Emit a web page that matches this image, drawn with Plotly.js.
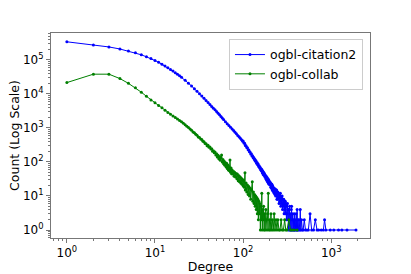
<!DOCTYPE html>
<html>
<head>
<meta charset="utf-8">
<script src="https://cdn.plot.ly/plotly-3.0.1.min.js"></script>
<style>html,body{margin:0;padding:0;background:#fff;}#chart{width:411px;height:274px;}</style>
</head>
<body>
<div id="chart"></div>
<script>
// ogbl-citation2 degree distribution
var citDegree = [1,2,3,4,5,6,7,8,9,10,11,12,13,14,15,16,17,18,19,20,
22,24,26,28,30,32,34,36,38,40,42,44,46,48,50,52,54,56,58,60,
63,66,69,72,75,78,81,84,87,90,93,96,99,
100,102,104,106,108,110,112,114,116,118,120,122,124,126,128,130,132,134,136,138,140,142,144,146,148,150,152,154,156,158,160,
161,163,165,167,169,171,173,175,177,179,181,183,185,187,189,191,193,195,197,199,
202,204,206,208,210,212,214,216,218,220,222,224,226,228,230,232,234,236,238,240,242,244,246,248,250,
253,256,259,262,265,268,271,274,277,280,283,286,289,292,295,298,301,304,307,310,313,316,319,322,325,328,331,334,337,340,343,346,349,352,355,358,361,365,369,373,377,381,385,390,395,400,405,410,415,420,425,432,440,445,452,460,470,480,495,510,530,550,575,600,630,660,690,720,770,815,840,870,975,1070,1210,1320,1510,1910];
var citCount = [340000,275000,240000,209000,182000,162000,141000,123000,110000,95500,85100,74100,66100,58600,52400,47000,42000,37600,33900,30800,
25000,20600,17100,14200,11900,10100,8630,7400,6370,5560,4870,4300,3800,3400,3040,2700,2420,2170,1950,1760,
1520,1330,1180,1047,933,836,752,673,603,547,497,451,409,
410,360,352,305,301,265,262,228,226,198,197,172,173,150,153,133,136,118,121,104,108,92,97,83,87,74,78,66,70,59,63,
55,60,48,54,43,50,40,45,36,41,32,38,29,35,26,32,24,30,22,27,
21,25,18,23,17,22,15,20,14,18,13,17,12,16,11,16,10,14,11,15,8,13,8,13,9,
12,6,11,7,12,5,9,6,10,4,8,5,8,3,7,4,7,3,6,2,5,3,6,2,4,1,4,2,5,1,3,2,1,4,5,1,2,3,1,2,1,3,1,2,1,3,1,4,1,2,1,2,1,4,1,2,1,1,2,1,1,1,3,1,1,2,1,1,1,1,2,1,1,1,1,1,1,1];

// ogbl-collab degree distribution
var colDegree = [1,2,3,4,5,6,7,8,9,10,11,12,13,14,15,16,17,18,19,20,
21,22,23,24,25,26,27,28,29,30,31,32,33,34,35,36,37,38,39,40,
41,42,43,44,45,46,47,48,49,50,51,52,53,54,55,56,57,58,59,60,
61,62,63,64,65,66,67,68,69,70,71,72,73,74,75,76,78,79,80,82,83,85,86,88,89,91,92,94,95,97,98,
100,101,103,105,106,108,110,112,114,116,118,120,122,124,127,129,131,133,135,137,139,141,143,145,147,149,151,153,155,157,159,161,163,165,167,169,171,173,175,178,181,184,187,190,193,196,199,
203,207,211,215,220,225,230,236,242,248,255,262,270,278,287,296,305,315,330,345,360,380,410];
var colCount = [21500,38000,38000,28200,20400,15100,11200,8500,6600,5500,4570,3890,3300,2860,2530,2250,2020,1820,1650,1510,
1370,1250,1120,1030,930,860,760,720,650,610,545,525,470,455,405,395,350,345,300,310,
270,275,240,245,205,215,185,195,160,175,140,158,125,142,112,132,160,100,118,88,
104,80,95,72,92,64,82,58,74,55,115,50,66,45,58,44,52,38,50,36,46,32,44,28,40,26,37,24,34,22,31,
20,29,18,48,15,24,13,21,11,19,10,17,8,15,26,7,13,6,11,5,10,4,9,3,8,2,7,3,6,1,5,2,12,1,4,2,5,1,3,1,4,2,1,3,12,1,2,
1,3,1,2,1,3,1,2,1,2,1,1,2,1,1,2,1,1,2,1,1,1,1];

var xTickVals = [1, 10, 100, 1000];
var xTickText = ['10<sup>0</sup>', '10<sup>1</sup>', '10<sup>2</sup>', '10<sup>3</sup>'];
var yTickVals = [1, 10, 100, 1000, 10000, 100000];
var yTickText = ['10<sup>0</sup>', '10<sup>1</sup>', '10<sup>2</sup>', '10<sup>3</sup>', '10<sup>4</sup>', '10<sup>5</sup>'];

var font = 'DejaVu Sans, sans-serif';
var traces = [
  {x: citDegree, y: citCount, name: 'ogbl-citation2', type: 'scatter', mode: 'lines+markers',
   line: {color: '#0000ff', width: 1}, marker: {color: '#0000ff', size: 3}},
  {x: colDegree, y: colCount, name: 'ogbl-collab', type: 'scatter', mode: 'lines+markers',
   line: {color: '#008000', width: 1}, marker: {color: '#008000', size: 3}}
];
var axisCommon = {
  type: 'log', showgrid: false, zeroline: false, showline: true, mirror: true,
  linecolor: '#777', linewidth: 1, ticks: 'outside', ticklen: 4, tickcolor: '#777',
  tickfont: {family: font, size: 12, color: '#000'},
  minor: {dtick: 'D1', ticks: 'outside', ticklen: 2, tickcolor: '#777', showgrid: false}
};
var layout = {
  width: 411, height: 274,
  margin: {l: 51, r: 41, t: 33, b: 36},
  paper_bgcolor: '#fff', plot_bgcolor: '#fff',
  font: {family: font, size: 12.5, color: '#000'},
  showlegend: true,
  xaxis: Object.assign({}, axisCommon, {
    range: [-0.18, 3.44], tickmode: 'array', tickvals: xTickVals, ticktext: xTickText,
    title: {text: 'Degree', font: {family: font, size: 12.5, color: '#000'}, standoff: 1}
  }),
  yaxis: Object.assign({}, axisCommon, {
    range: [-0.235, 5.79], tickmode: 'array', tickvals: yTickVals, ticktext: yTickText,
    title: {text: 'Count (Log Scale)', font: {family: font, size: 12.5, color: '#000'}, standoff: 0}
  }),
  legend: {x: 0.978, xanchor: 'right', y: 0.971, yanchor: 'top', bgcolor: '#fff',
    bordercolor: '#cccccc', borderwidth: 1, font: {family: font, size: 12.5, color: '#000'},
    itemwidth: 30, tracegroupgap: 0}
};
Plotly.newPlot('chart', traces, layout, {staticPlot: true, displayModeBar: false});
</script>
</body>
</html>
